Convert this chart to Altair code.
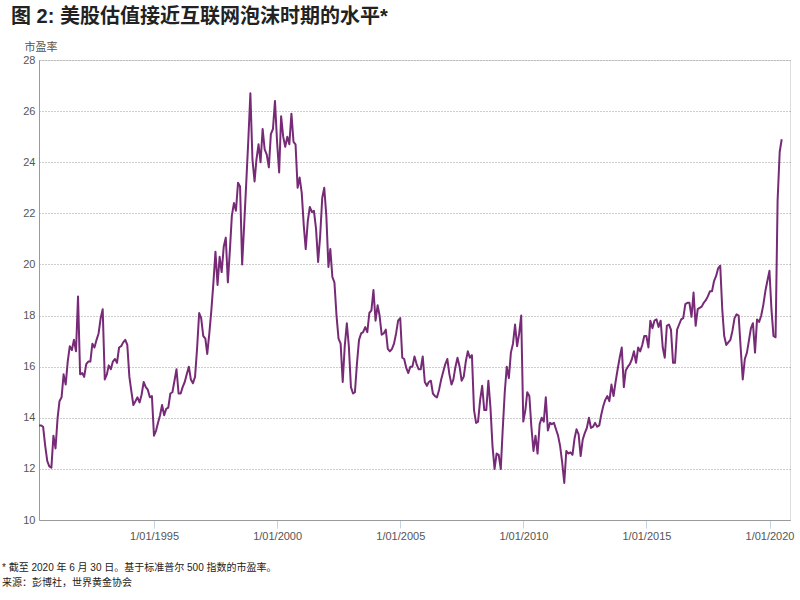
import altair as alt
import pandas as pd

# Monthly S&P 500 P/E readings (month-end), May 1990 .. June 2020
pe_values = [
    13.7, 13.7, 13.65, 12.9, 12.3, 12.1, 12.05, 13.3, 12.8, 14.0,
    14.65, 14.8, 15.7, 15.3, 16.2, 16.8, 16.65, 17.05, 16.6, 18.75,
    15.7, 15.75, 15.6, 16.1, 16.2, 16.2, 16.9, 16.75, 17.05, 17.3,
    17.9, 18.25, 15.5, 15.7, 16.05, 15.9, 16.2, 16.3, 16.15, 16.75,
    16.8, 16.95, 17.05, 16.85, 15.6, 15.0, 14.5, 14.65, 14.8, 14.6,
    14.9, 15.4, 15.2, 15.1, 14.8, 14.85, 13.3, 13.5, 13.8, 14.1,
    14.5, 14.1, 14.35, 14.4, 14.95, 15.0, 15.45, 15.9, 14.95, 14.95,
    15.2, 15.4, 15.7, 16.0, 15.5, 15.35, 15.6, 16.7, 18.1, 17.9,
    17.2, 17.1, 16.5, 17.3, 18.2, 19.3, 20.5, 19.2, 20.3, 19.7,
    20.7, 21.05, 19.3, 20.6, 21.9, 22.4, 22.1, 23.2, 23.05, 20.0,
    21.6, 23.2, 24.9, 26.7, 24.1, 23.25, 24.1, 24.7, 24.0, 25.3,
    24.5, 24.3, 23.8, 25.1, 25.3, 26.4, 24.8, 23.6, 25.8, 25.0,
    24.6, 25.0, 24.7, 25.9, 24.8, 24.7, 23.0, 23.4, 22.8, 21.5,
    20.6, 21.7, 22.25, 22.05, 22.1, 21.4, 20.1, 21.1, 22.6, 23.0,
    21.9, 19.9, 20.6, 19.5, 19.3, 18.0, 17.1, 16.9, 15.4, 16.8,
    17.7, 16.8, 15.2, 14.95, 15.0, 16.15, 17.05, 17.3, 17.35, 17.55,
    17.35, 18.1, 18.2, 19.0, 17.8, 18.4, 18.0, 17.25, 17.3, 17.45,
    16.7, 16.6, 16.7, 16.9, 17.3, 17.8, 17.9, 16.35, 16.3, 15.95,
    15.75, 16.0, 16.0, 16.4, 16.1, 15.9, 15.9, 16.4, 15.4, 15.25,
    15.4, 15.45, 14.95, 14.85, 14.8, 15.1, 15.5, 15.8, 16.1, 16.3,
    15.7, 15.3, 15.5, 16.0, 16.35, 16.0, 15.45, 15.6, 16.2, 16.6,
    16.35, 16.45, 14.3, 13.8, 13.85, 14.7, 15.25, 14.3, 14.3, 15.45,
    14.4, 12.9, 12.0, 12.6, 12.55, 12.0, 13.5, 15.0, 16.0, 15.55,
    16.55, 16.9, 17.65, 16.8, 17.3, 18.0, 13.85, 14.3, 15.0, 14.85,
    13.65, 12.7, 13.3, 12.6, 13.75, 14.0, 13.85, 14.8, 13.5, 13.8,
    13.75, 13.8, 13.55, 13.3, 12.9, 12.25, 11.45, 12.7, 12.6, 12.65,
    12.55, 13.2, 13.55, 13.35, 12.5, 13.15, 13.4, 13.6, 14.0, 13.6,
    13.65, 13.8, 13.65, 13.7, 14.1, 14.45, 14.7, 14.85, 14.65, 15.3,
    14.85, 15.4, 15.9, 16.35, 16.75, 15.2, 15.85, 16.0, 16.1, 16.3,
    16.6, 16.15, 16.75, 16.6, 16.85, 17.2, 17.2, 16.75, 17.8, 17.5,
    17.8, 17.85, 17.55, 17.8, 16.75, 16.35, 17.6, 17.65, 17.45, 16.15,
    16.15, 17.45, 17.65, 17.85, 17.9, 18.45, 18.5, 18.5, 17.95, 18.9,
    17.6, 18.25, 18.3, 18.35, 18.5, 18.6, 18.75, 18.95, 18.95, 19.35,
    19.55, 19.85, 19.95, 18.2, 17.2, 16.85, 16.95, 17.05, 17.4, 17.9,
    18.05, 18.0, 16.7, 15.5, 16.3, 16.55, 17.0, 17.5, 17.7, 16.55,
    17.85, 17.75, 18.0, 18.4, 18.95, 19.35, 19.75, 18.2, 17.2, 17.15,
    22.5, 24.4, 24.9,
]
first_month = "1990-04-01"

x_tick_years = [1995, 2000, 2005, 2010, 2015, 2020]
y_tick_values = [10, 12, 14, 16, 18, 20, 22, 24, 26, 28]

title_text = ["图 2: 美股估值接近互联网泡沫时期的水平*"]
y_title = "市盈率"
note_line_1 = ["* 截至 2020 年 6 月 30 日。基于标准普尔 500 指数的市盈率。"]
note_line_2 = ["来源：彭博社，世界黄金协会"]

FONT = "Liberation Sans, Noto Sans CJK SC, sans-serif"

dates = pd.date_range(first_month, periods=len(pe_values), freq="MS") + pd.offsets.MonthEnd(0)
df = pd.DataFrame({"date": dates, "pe": pe_values})

line = alt.Chart(df).mark_line(
    color="#772b77", strokeWidth=2, strokeJoin="round"
).encode(
    x=alt.X(
        "date:T",
        scale=alt.Scale(
            domain=[
                alt.DateTime(year=1990, month=4, date=30),
                alt.DateTime(year=2020, month=10, date=31),
            ]
        ),
        axis=alt.Axis(
            values=[alt.DateTime(year=y, month=1, date=1) for y in x_tick_years],
            format="1/01/%Y",
            title=None,
            grid=False,
            tickColor="#c5d3e8",
            tickSize=8,
            tickWidth=1,
            labelPadding=2,
            domainColor="#9a9a9a",
            domainWidth=1,
            labelColor="#555555",
            labelFont=FONT,
            labelFontSize=11,
            labelFlush=False,
        ),
    ),
    y=alt.Y(
        "pe:Q",
        scale=alt.Scale(domain=[10, 28], nice=False, zero=False),
        axis=alt.Axis(
            values=y_tick_values,
            title=y_title,
            titleAngle=0,
            titleX=-15,
            titleY=-13,
            titleAlign="left",
            titleBaseline="middle",
            titleFont=FONT,
            titleFontSize=11,
            titleFontWeight="normal",
            titleColor="#555555",
            ticks=False,
            tickSize=0,
            grid=True,
            gridDash=[1, 2],
            gridColor="#9a9a9a",
            gridWidth=1,
            domainColor="#9a9a9a",
            domainWidth=1,
            labelPadding=4,
            labelColor="#555555",
            labelFont=FONT,
            labelFontSize=11,
        ),
    ),
)

title_layer = alt.Chart(pd.DataFrame({"t": title_text})).mark_text(
    align="left", baseline="middle", font=FONT, fontSize=20,
    fontWeight="bold", color="#222222",
).encode(text="t:N", x=alt.value(-28), y=alt.value(-43))

note1_layer = alt.Chart(pd.DataFrame({"t": note_line_1})).mark_text(
    align="left", baseline="middle", font=FONT, fontSize=10, color="#222222",
).encode(text="t:N", x=alt.value(-37), y=alt.value(508))

note2_layer = alt.Chart(pd.DataFrame({"t": note_line_2})).mark_text(
    align="left", baseline="middle", font=FONT, fontSize=10, color="#222222",
).encode(text="t:N", x=alt.value(-37), y=alt.value(523))

chart = alt.layer(line, title_layer, note1_layer, note2_layer).properties(
    width=751,
    height=460,
    autosize=alt.AutoSizeParams(type="none"),
    padding={"left": 39, "top": 60, "right": 10, "bottom": 80},
).configure_view(strokeWidth=0).configure(background="white")

chart.save("out.html", embed_options={"renderer": "svg", "actions": False})
